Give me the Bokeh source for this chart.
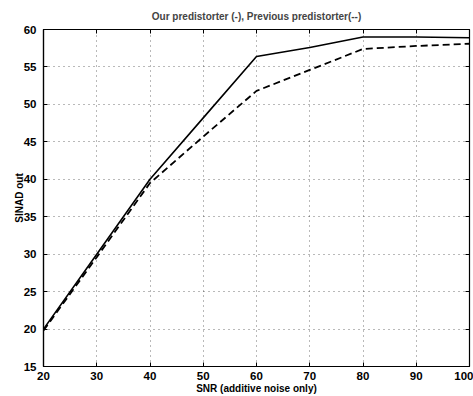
from bokeh.plotting import figure
from bokeh.models import LinearAxis, SingleIntervalTicker, Range1d, CustomJSTickFormatter
from bokeh.embed import file_html
from bokeh.resources import INLINE

snr = [20, 30, 40, 50, 60, 70, 80, 90, 100]
ours = [20.0, 30.0, 40.0, 48.2, 56.4, 57.6, 59.0, 59.0, 58.9]
previous = [19.8, 29.6, 39.5, 45.7, 51.8, 54.6, 57.4, 57.8, 58.1]

title_text = "Our predistorter (-), Previous predistorter(--)"
x_label = "SNR (additive noise only)"
y_label = "SINAD out"

FONT = "Liberation Sans"

p = figure(width=473, height=396, output_backend="svg", toolbar_location=None,
           x_range=Range1d(20, 100), y_range=Range1d(15, 60),
           min_border_left=43, min_border_right=1, min_border_top=29, min_border_bottom=28,
           title=title_text)

p.title.align = "center"
p.title.text_font = FONT
p.title.text_font_size = "10px"
p.title.text_font_style = "bold"
p.title.standoff = 8

p.background_fill_color = "white"
p.border_fill_color = "white"
p.outline_line_color = "black"
p.outline_line_width = 1.2

for ax, tick in ((p.xaxis[0], 10), (p.yaxis[0], 5)):
    ax.ticker = SingleIntervalTicker(interval=tick)
    ax.major_tick_in = 4
    ax.major_tick_out = 0
    ax.minor_tick_line_color = None
    ax.axis_line_color = "black"
    ax.axis_line_width = 1.2
    ax.major_label_text_font = FONT
    ax.major_label_text_font_size = "11.5px"
    ax.major_label_text_font_style = "bold"
    ax.major_label_text_color = "black"
    ax.axis_label_text_font = FONT
    ax.axis_label_text_font_size = "10px"
    ax.axis_label_text_font_style = "bold"
    ax.axis_label_text_color = "black"

p.xaxis[0].axis_label = x_label
p.yaxis[0].axis_label = y_label
p.xaxis[0].major_label_standoff = 1
p.xaxis[0].axis_label_standoff = 0
p.yaxis[0].major_label_standoff = 3
p.yaxis[0].axis_label_standoff = -4

blank = CustomJSTickFormatter(code="return ''")
top = LinearAxis(ticker=SingleIntervalTicker(interval=10), major_tick_in=4, major_tick_out=0,
                 minor_tick_line_color=None, formatter=blank, major_label_text_font_size="0px",
                 major_label_standoff=0, axis_line_color=None)
right = LinearAxis(ticker=SingleIntervalTicker(interval=5), major_tick_in=4, major_tick_out=0,
                   minor_tick_line_color=None, formatter=blank, major_label_text_font_size="0px",
                   major_label_standoff=0, axis_line_color=None)
p.add_layout(top, "above")
p.add_layout(right, "right")

p.xgrid[0].ticker = SingleIntervalTicker(interval=10)
p.ygrid[0].ticker = SingleIntervalTicker(interval=5)
for g in (p.xgrid[0], p.ygrid[0]):
    g.grid_line_color = "black"
    g.grid_line_alpha = 0.55
    g.grid_line_dash = "1 4"
    g.grid_line_width = 1

p.line(snr, ours, line_color="black", line_width=1.6)
p.line(snr, previous, line_color="black", line_width=1.8, line_dash="7 4")

open("out.html", "w").write(file_html(p, INLINE))
